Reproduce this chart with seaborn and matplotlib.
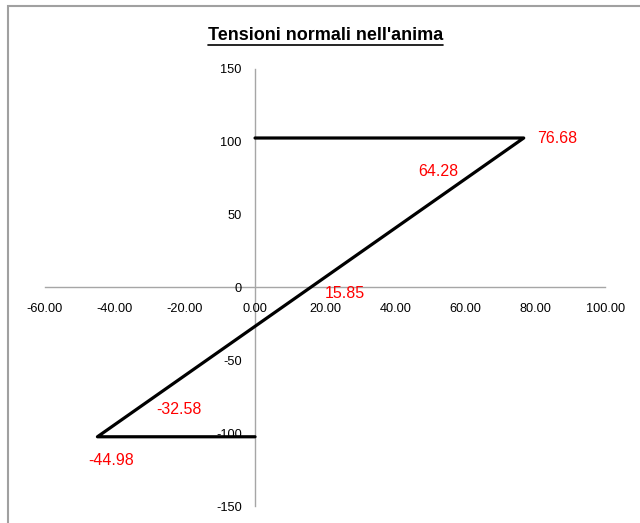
import matplotlib
matplotlib.use("Agg")
import matplotlib.pyplot as plt
import seaborn as sns
import pandas as pd
from matplotlib.lines import Line2D
from matplotlib.patches import Rectangle

# Data
x_vals = [0.0, 76.68, 64.28, 15.85, -32.58, -44.98, 0.0]
y_vals = [102.5, 102.5, 81.6, 0.0, -81.6, -102.5, -102.5]
point_labels = ["", "76.68", "64.28", "15.85", "-32.58", "-44.98", ""]
x_ticks = [-60, -40, -20, 0, 20, 40, 60, 80, 100]
y_ticks = [-150, -100, -50, 0, 50, 100, 150]

sns.set_style("white")
plt.rcParams["font.family"] = ["Liberation Sans Narrow", "Liberation Sans", "DejaVu Sans"]
plt.rcParams["text.color"] = "black"

df = pd.DataFrame({"x": x_vals, "y": y_vals})

fig = plt.figure(figsize=(6.4, 5.23), dpi=100)
ax = fig.add_axes([0.070, 0.0325, 0.876, 0.836])

sns.lineplot(data=df, x="x", y="y", sort=False, estimator=None,
             color="black", linewidth=2.3, ax=ax)

ax.set_xlim(-60, 100)
ax.set_ylim(-150, 150)
ax.set_xticks(x_ticks)
ax.set_yticks(y_ticks)
ax.set_xticklabels([f"{t:.2f}" for t in x_ticks])
ax.set_yticklabels([str(t) for t in y_ticks])
ax.set_xlabel("")
ax.set_ylabel("")

for s in ["top", "right"]:
    ax.spines[s].set_visible(False)
for s in ["left", "bottom"]:
    ax.spines[s].set_position(("data", 0))
    ax.spines[s].set_color("#A6A6A6")
    ax.spines[s].set_linewidth(1.0)
    ax.spines[s].set_zorder(0)

ax.tick_params(axis="x", length=0, pad=11, labelsize=9.2, colors="black")
ax.tick_params(axis="y", length=0, pad=9.5, labelsize=9.2, colors="black")

# data labels (offsets in points)
offsets = {1: (10, 0, "left", "center"),
           2: (-16, -2.5, "right", "center"),
           3: (10, -4.5, "left", "center"),
           4: (11, -2, "left", "center"),
           5: (10, -17, "center", "center")}
for i, (dx, dy, ha, va) in offsets.items():
    ax.annotate(point_labels[i], (x_vals[i], y_vals[i]), xytext=(dx, dy),
                textcoords="offset points", ha=ha, va=va,
                color="#FF0000", fontsize=11.5)

# title with underline
title = fig.text(0.509, 0.933, "Tensioni normali nell'anima", ha="center",
                 va="center", fontsize=13, fontweight="bold", color="black")
fig.canvas.draw()
bb = title.get_window_extent(fig.canvas.get_renderer())
x0, x1 = bb.x0 / fig.bbox.width, bb.x1 / fig.bbox.width
yl = (bb.y0 - 1) / fig.bbox.height
fig.add_artist(Line2D([x0, x1], [yl, yl], color="black", linewidth=1.2,
                      transform=fig.transFigure))

# chart area border (only left/top visible in the crop)
fig.add_artist(Rectangle((7.5 / 640, -0.1), 1.2, 1.1 - 6.5 / 523,
                         transform=fig.transFigure, fill=False,
                         edgecolor="#A0A0A0", linewidth=1.5))

fig.savefig("out.png", dpi=100)
